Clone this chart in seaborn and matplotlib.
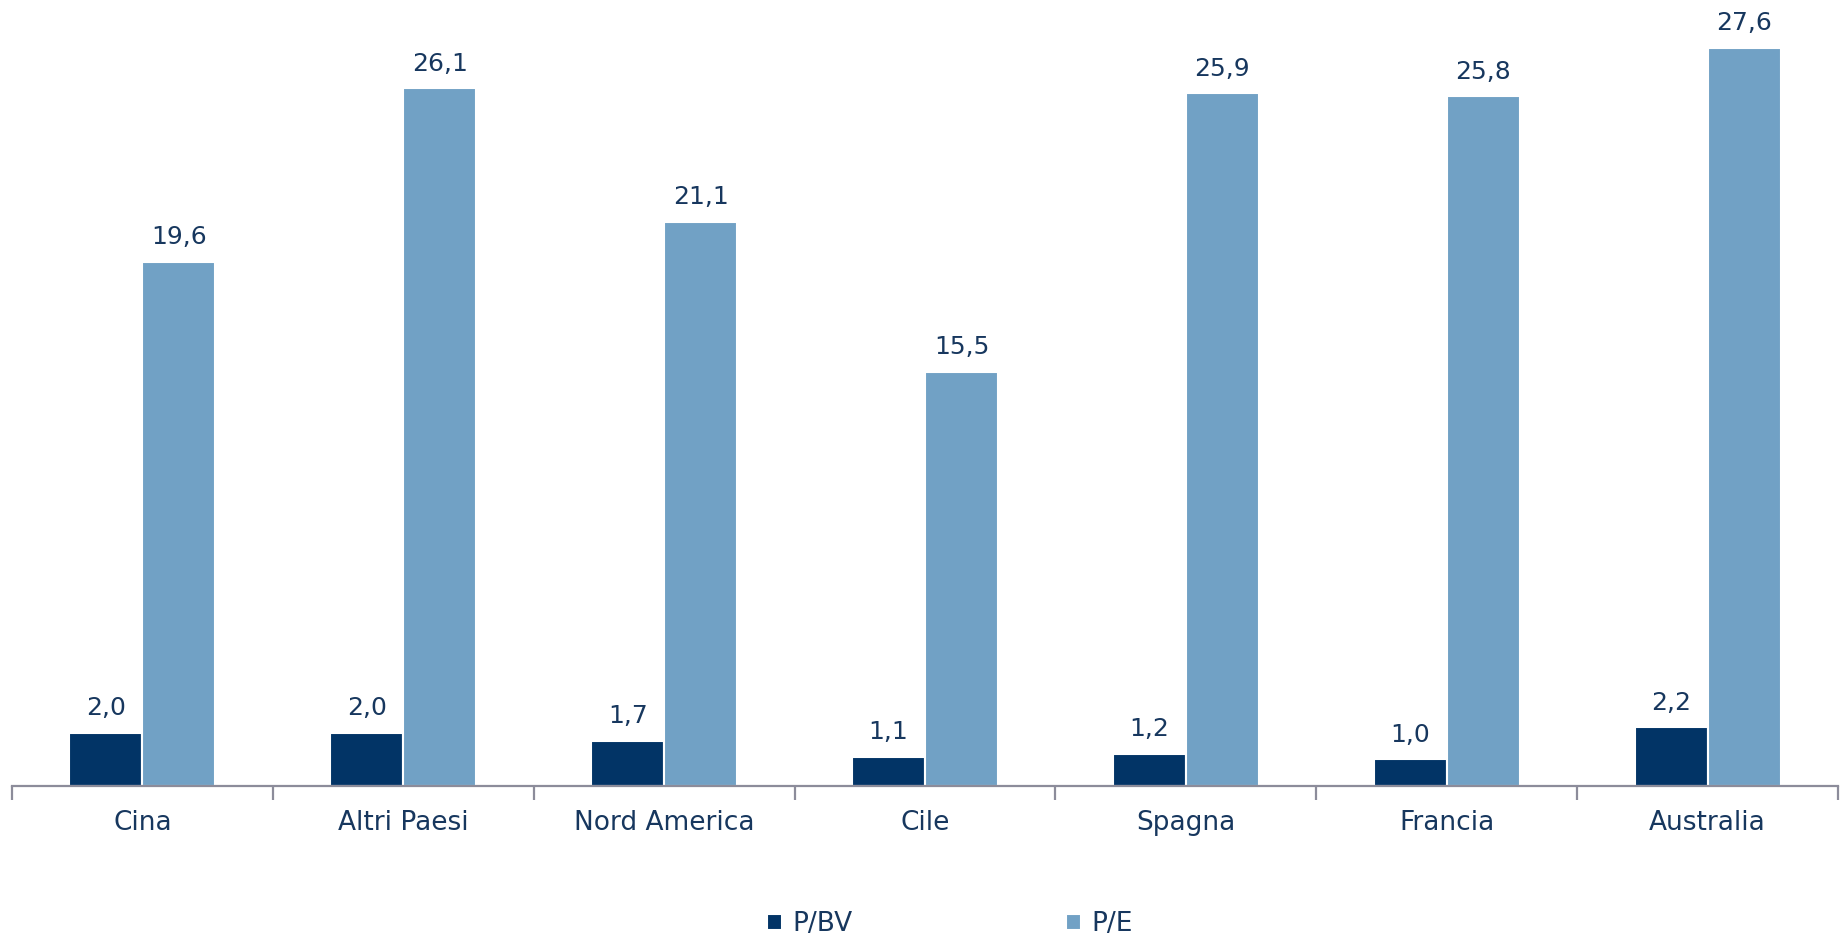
import matplotlib
matplotlib.use("Agg")
import matplotlib.pyplot as plt
from matplotlib.ticker import FixedLocator
import seaborn as sns
import pandas as pd

# Valuation multiples by geographic area
areas = ["Cina", "Altri Paesi", "Nord America", "Cile", "Spagna", "Francia", "Australia"]
p_bv = [2.0, 2.0, 1.7, 1.1, 1.2, 1.0, 2.2]
p_e = [19.6, 26.1, 21.1, 15.5, 25.9, 25.8, 27.6]
series_names = ["P/BV", "P/E"]

dark_blue = "#023466"
light_blue = "#71A1C5"
text_color = "#17375E"
axis_color = "#8C8C9A"

df = pd.DataFrame({
    "Area": areas * 2,
    "Serie": [series_names[0]] * len(areas) + [series_names[1]] * len(areas),
    "Valore": p_bv + p_e,
})

sns.set_theme(style="white")
plt.rcParams["font.family"] = ["DejaVu Sans"]

fig = plt.figure(figsize=(18.46, 9.39), dpi=100)
ax = fig.add_axes([0.0065, 0.1629, 0.9892, 0.8259])

sns.barplot(
    data=df, x="Area", y="Valore", hue="Serie", order=areas, hue_order=series_names,
    palette=[dark_blue, light_blue], width=0.56, gap=0, saturation=1,
    edgecolor="white", linewidth=1.5, errorbar=None, ax=ax, legend=True,
)

for cont in ax.containers:
    ax.bar_label(cont, fmt=lambda v: f"{v:.1f}".replace(".", ","),
                 padding=9, fontsize=18, color=text_color)

ax.set_xlim(-0.5, len(areas) - 0.5)
ax.set_ylim(0, 29)
ax.set_xlabel("")
ax.set_ylabel("")
ax.set_yticks([])

for side in ["top", "right", "left"]:
    ax.spines[side].set_visible(False)
ax.spines["bottom"].set_color(axis_color)
ax.spines["bottom"].set_linewidth(1.6)

ax.xaxis.set_minor_locator(FixedLocator([i - 0.5 for i in range(len(areas) + 1)]))
ax.tick_params(axis="x", which="major", length=0, pad=17, labelsize=19, labelcolor=text_color)
ax.tick_params(axis="x", which="minor", length=10, width=1.6, color=axis_color, bottom=True)

handles, labels = ax.get_legend_handles_labels()
ax.get_legend().remove()
fig.legend(handles, labels, loc="center", bbox_to_anchor=(0.5145, 1 - 924 / 939),
           ncol=2, frameon=False, fontsize=19, labelcolor=text_color,
           handlelength=0.55, handleheight=0.55, handletextpad=0.4, columnspacing=8.1)

fig.savefig("out.png", dpi=100, facecolor="white")
